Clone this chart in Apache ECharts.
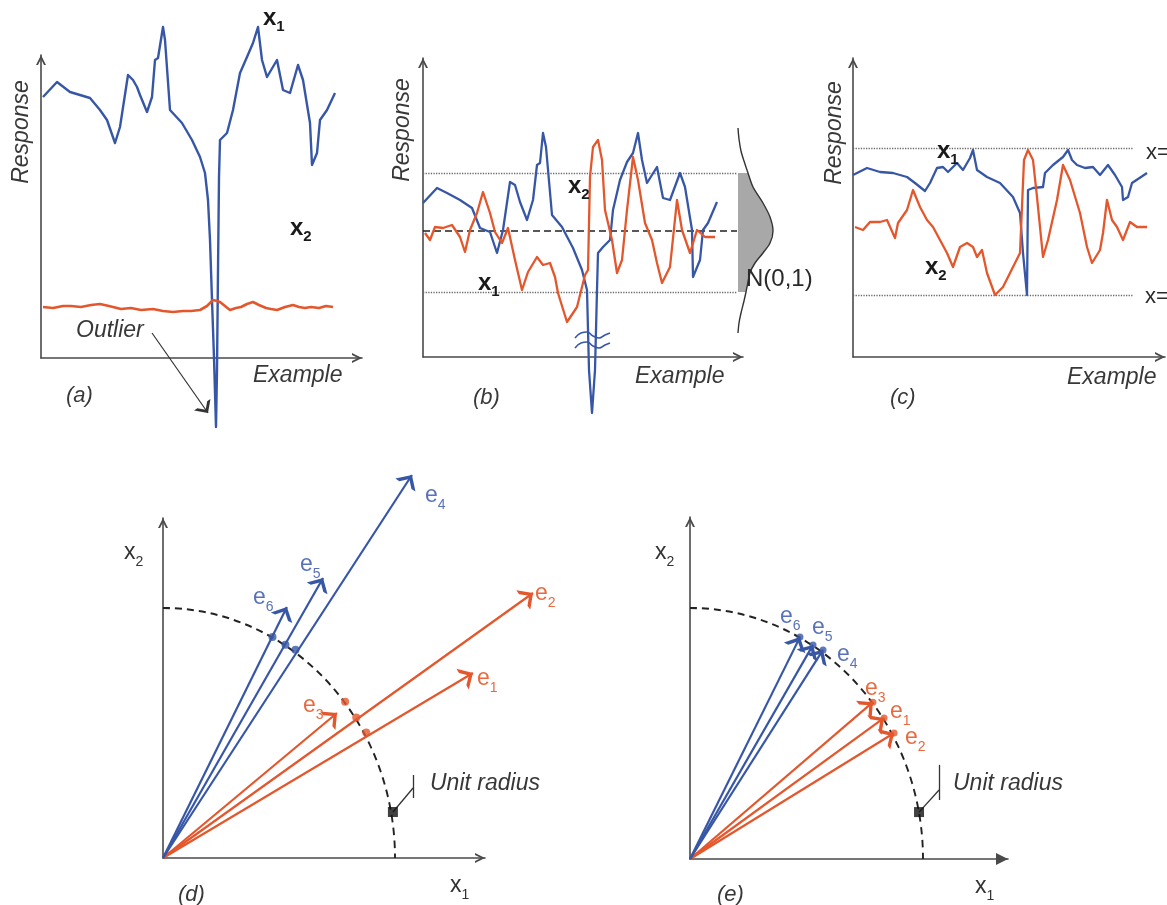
<!DOCTYPE html>
<html><head><meta charset="utf-8">
<script src="https://cdn.jsdelivr.net/npm/echarts/dist/echarts.min.js"></script>
<style>html,body{margin:0;padding:0;background:#fff}#c{width:1167px;height:905px}</style>
</head><body><div id="c"></div>
<script>
// ---------------- DATA (panel units; x = example index, y = response) ----------------
// (a) raw responses
const aX1 = [[2,261],[16,276],[29,266],[39,263],[49,260],[59,248],[66,238],[74,215],[79,231],[87,283],[92,278],[96,271],[99,263],[106,246],[111,261],[114,298],[117,300],[122,331],[124,318],[129,248],[141,235],[151,218],[159,201],[164,185],[167,158],[169,118],[171,58],[173,0],[175,-69],[176,-12],[177,88],[178,181],[179,218],[186,225],[192,248],[199,285],[206,301],[212,315],[217,331],[221,298],[226,281],[236,298],[242,268],[249,265],[257,293],[262,278],[269,235],[271,193],[276,205],[279,238],[286,248],[294,265]];
const aX2 = [[2,51],[12,50],[22,52],[30,52],[40,51],[50,53],[59,54],[68,52],[80,49],[90,50],[100,48],[112,49],[122,47],[132,46],[142,47],[150,47],[159,48],[166,52],[172,58],[176,57],[179,56],[184,52],[189,48],[195,50],[200,51],[206,54],[212,56],[218,53],[225,50],[230,49],[236,48],[244,51],[252,53],[258,51],[264,50],[270,51],[278,50],[285,52],[292,51]];
const aOutlierArrow = [[111,25],[167,-55]];
// (b) standardised responses
const bX1 = [[0,154],[14,169],[24,164],[37,157],[49,149],[57,129],[67,125],[74,104],[80,127],[87,175],[92,172],[97,155],[104,137],[110,157],[114,192],[117,194],[120,224],[123,210],[129,142],[139,130],[150,109],[159,87],[164,67],[165,27],[166,-13],[169,-56],[172,-13],[173,27],[174,67],[175,104],[180,110],[187,117],[190,147],[197,177],[204,195],[210,204],[215,224],[219,197],[224,174],[234,190],[240,159],[247,157],[257,184],[262,170],[269,127],[270,80],[277,97],[280,127],[285,134],[294,155]];
const bX2 = [[2,124],[7,117],[12,130],[20,129],[29,132],[37,120],[42,105],[47,127],[54,144],[60,165],[67,144],[72,125],[79,114],[85,129],[92,97],[99,67],[105,85],[114,100],[120,92],[127,94],[132,80],[135,64],[144,35],[154,50],[162,82],[165,87],[167,180],[170,210],[175,217],[179,197],[182,147],[189,117],[194,84],[199,97],[204,147],[210,200],[215,177],[222,134],[229,117],[234,94],[239,74],[247,90],[254,157],[259,127],[267,104],[274,127],[282,120],[292,120]];
const bLevels = [184, 126, 65];          // +1 sd, mean, -1 sd
const bLevelEnd = 314;
const bBell = [[315,229],[316,218],[318,206],[321,196],[324,187],[325,184],[330,170],[340,154],[347,140],[350,126],[347,114],[340,104],[332,94],[327,84],[324,70],[323,65],[321,56],[318,44],[316,34],[315,24]];
const bBreakMarks = [[[152,19],[158,24],[164,25],[170,21],[176,19],[182,22],[187,24]],[[152,9],[158,14],[164,15],[170,11],[176,9],[182,12],[187,14]]];
// (c) min-max scaled responses
const cX1 = [[0,182],[14,189],[27,185],[40,184],[54,180],[62,174],[72,166],[77,174],[84,189],[90,190],[95,185],[104,194],[110,187],[117,199],[120,207],[124,187],[134,180],[147,174],[160,160],[167,144],[170,104],[174,62],[175,167],[180,169],[190,170],[192,184],[200,192],[210,200],[215,207],[219,197],[224,192],[232,189],[240,190],[247,182],[255,192],[262,182],[269,170],[270,157],[275,160],[279,174],[294,184]];
const cX2 = [[2,130],[10,127],[17,135],[27,135],[34,137],[42,119],[45,134],[54,147],[60,167],[67,150],[74,137],[80,130],[87,117],[94,104],[100,90],[107,110],[114,114],[120,110],[124,100],[129,107],[134,84],[142,62],[150,70],[160,90],[167,104],[171,197],[175,207],[180,197],[184,160],[190,100],[195,117],[204,157],[210,192],[217,177],[227,144],[234,110],[239,94],[247,107],[250,124],[254,157],[259,137],[264,130],[270,117],[277,135],[284,130],[294,130]];
const cLevels = [209, 62];               // x = 1, x = 0
const cLevelEnd = 280;
// (d) raw example vectors e1..e6 and (e) unit-length vectors e1..e6
const vecNames = ['e1','e2','e3','e4','e5','e6'];
const dVectors = [[1.336,0.74],[1.595,1.06],[0.75,0.58],[1.073,1.532],[0.69,1.12],[0.534,1.004]];
const eVectors = [[0.833,0.562],[0.876,0.502],[0.785,0.625],[0.571,0.833],[0.528,0.853],[0.472,0.884]];
const unitRadius = 1;
const dUnitMarker = [0.991, 0.184];
const eUnitMarker = [0.983, 0.187];

// ---------------- STYLE ----------------
const BLUE = '#3757a6', ORANGE = '#e4572c', AX = '#4a4a4a';
const BLUE_T = '#5a72b8', ORANGE_T = '#e86a40';
const FONT = '"Liberation Sans", Arial, Helvetica, sans-serif';
const CHEV = 'path://M5,0 M0,20 L5,10 L10,20 L8,20 L5,14 L2,20 Z';
const TRI = 'path://M5,0 M0,20 L5,10 L10,20 Z';
const vecColor = i => i < 3 ? ORANGE : BLUE;

function valAxis(gi, max, sym, size) {
  return {type:'value', gridIndex:gi, min:0, max:max,
    axisLine:{show:true, onZero:false, symbol:['none', sym], symbolSize:size, lineStyle:{color:AX, width:1.6}},
    axisTick:{show:false}, axisLabel:{show:false}, splitLine:{show:false}};
}
function lineS(gi, data, color, width, z) {
  return {type:'line', xAxisIndex:gi, yAxisIndex:gi, data:data, symbol:'none', showSymbol:false, clip:false,
    lineStyle:{color:color, width:width||2.4, join:'round'}, z:z||3, silent:true};
}
function segs(gi, list, style, sym, symSize, z) {
  return {type:'lines', coordinateSystem:'cartesian2d', xAxisIndex:gi, yAxisIndex:gi, clip:false, silent:true,
    data:list, lineStyle:Object.assign({opacity:1, curveness:0}, style), symbol:sym||['none','none'], symbolSize:symSize||10, z:z||2};
}
function arcS(gi) {
  return {type:'custom', xAxisIndex:gi, yAxisIndex:gi, clip:false, silent:true, data:[[0,0]], z:1,
    renderItem:(p, api) => {
      const o = api.coord([0,0]);
      const rx = api.size([unitRadius,0])[0], ry = api.size([0,unitRadius])[1];
      return {type:'arc', x:o[0], y:o[1], scaleY:ry/rx,
        shape:{cx:0, cy:0, r:rx, startAngle:-Math.PI/2, endAngle:0, clockwise:true},
        style:{stroke:'#222', fill:null, lineWidth:1.9, lineDash:[7,5]}};
    }};
}
function txt(x, y, text, o) {
  o = o || {};
  return {type:'text', x:x, y:y, rotation:o.rot||0, silent:true, z:100,
    style:{text:text, fill:o.color||'#383838',
      font:(o.it?'italic ':'') + (o.bold?'bold ':'') + (o.size||23) + 'px ' + FONT,
      textAlign:o.align||'left', textVerticalAlign:'middle'}};
}
function sub(x, y, base, s, o) {
  o = o || {};
  const w = o.bold ? 'bold' : 'normal', col = o.color || '#222', lh = 32;
  return {type:'text', x:x, y:y, silent:true, z:100,
    style:{text:'{m|' + base + '}{s|' + s + '}', textAlign:'left', textVerticalAlign:'middle',
      rich:{m:{fontSize:o.size||23, fontWeight:w, fontFamily:FONT, fill:col, lineHeight:lh, verticalAlign:'middle'},
            s:{fontSize:o.sub||14, fontWeight:w, fontFamily:FONT, fill:col, lineHeight:lh, verticalAlign:'bottom'}}}};
}

const chart = echarts.init(document.getElementById('c'), null, {renderer:'canvas'});
const gridBase = {containLabel:false, outerBoundsMode:'none', show:false};
const grids = [
  {left:41, top:55, width:321, height:303},
  {left:423, top:58, width:320, height:299},
  {left:853, top:58, width:312, height:299},
  {left:163, top:518, width:322, height:340},
  {left:690, top:517, width:318, height:342}
].map(g => Object.assign({}, gridBase, g));

const dotted = {color:'#6a6a6a', width:1.3, type:'dotted'};
const series = [
  // (a)
  lineS(0, aX1, BLUE, 2.4, 3),
  lineS(0, aX2, ORANGE, 2.6, 4),
  segs(0, [{coords:aOutlierArrow}], {color:'#333', width:1.2}, ['none', CHEV], [9,20], 5),
  // (b)
  segs(1, [{coords:[[0,bLevels[0]],[bLevelEnd,bLevels[0]]]},{coords:[[0,bLevels[2]],[bLevelEnd,bLevels[2]]]}], dotted),
  segs(1, [{coords:[[0,bLevels[1]],[bLevelEnd,bLevels[1]]]}], {color:'#222', width:1.5, type:[7,4]}),
  {type:'custom', xAxisIndex:1, yAxisIndex:1, clip:false, silent:true, data:[[0,0]], z:1,
    renderItem:(p, api) => {
      const poly = [[bBell[0][0], bLevels[0]]].concat(bBell.filter(q => q[1] <= bLevels[0] && q[1] >= bLevels[2]), [[bBell[0][0], bLevels[2]]]);
      return {type:'group', children:[
        {type:'polygon', shape:{points:poly.map(q => api.coord(q))}, style:{fill:'#a8a8a8', stroke:null}},
        {type:'polyline', shape:{points:bBell.map(q => api.coord(q)), smooth:0.3}, style:{stroke:'#333', lineWidth:1.4, fill:null}}
      ]};
    }},
  lineS(1, bX1, BLUE, 2.3, 3),
  lineS(1, bX2, ORANGE, 2.3, 4),
  Object.assign(lineS(1, bBreakMarks[0], BLUE, 1.6, 5), {smooth:true}),
  Object.assign(lineS(1, bBreakMarks[1], BLUE, 1.6, 5), {smooth:true}),
  // (c)
  segs(2, cLevels.map(v => ({coords:[[0,v],[cLevelEnd,v]]})), dotted),
  lineS(2, cX1, BLUE, 2.3, 3),
  lineS(2, cX2, ORANGE, 2.3, 4),
  // (d)
  arcS(3),
  segs(3, dVectors.map((v,i) => ({coords:[[0,0],v], lineStyle:{color:vecColor(i), opacity:1}})), {width:2.2}, ['none', CHEV], [12,24], 3),
  {type:'scatter', xAxisIndex:3, yAxisIndex:3, clip:false, silent:true, symbolSize:8, z:4,
    data:eVectors.map((v,i) => ({value:v, itemStyle:{color:vecColor(i)}}))},
  {type:'scatter', xAxisIndex:3, yAxisIndex:3, clip:false, silent:true, symbol:'rect', symbolSize:10, z:4,
    data:[dUnitMarker], itemStyle:{color:'#111'}},
  segs(3, [{coords:[dUnitMarker,[1.078,0.28]]},{coords:[[1.078,0.332],[1.078,0.24]]}], {color:'#333', width:1.3}),
  // (e)
  arcS(4),
  segs(4, eVectors.map((v,i) => ({coords:[[0,0],v], lineStyle:{color:vecColor(i), opacity:1}})), {width:2.2}, ['none', CHEV], [12,24], 3),
  {type:'scatter', xAxisIndex:4, yAxisIndex:4, clip:false, silent:true, symbolSize:7, z:4,
    data:eVectors.map((v,i) => ({value:v, itemStyle:{color:vecColor(i)}}))},
  {type:'scatter', xAxisIndex:4, yAxisIndex:4, clip:false, silent:true, symbol:'rect', symbolSize:10, z:4,
    data:[eUnitMarker], itemStyle:{color:'#111'}},
  segs(4, [{coords:[eUnitMarker,[1.069,0.275]]},{coords:[[1.069,0.375],[1.069,0.235]]}], {color:'#333', width:1.3})
];

const dLabelPos = [[477,679],[535,594],[303,706],[425,496],[300,565],[253,598]];
const eLabelPos = [[890,712],[905,738],[865,689],[837,655],[812,628],[780,617]];
const graphics = [
  // (a)
  txt(22,132,'Response',{it:true, rot:Math.PI/2, align:'center'}),
  txt(253,376,'Example',{it:true}),
  txt(66,396,'(a)',{it:true, size:22}),
  txt(76,331,'Outlier',{it:true}),
  sub(263,18,'x','1',{bold:true, size:24, sub:15, color:'#1a1a1a'}),
  sub(290,228,'x','2',{bold:true, size:24, sub:15, color:'#1a1a1a'}),
  // (b)
  txt(403,130,'Response',{it:true, rot:Math.PI/2, align:'center'}),
  txt(635,377,'Example',{it:true}),
  txt(473,398,'(b)',{it:true, size:22}),
  sub(568,186,'x','2',{bold:true, size:24, sub:15, color:'#1a1a1a'}),
  sub(478,283,'x','1',{bold:true, size:24, sub:15, color:'#1a1a1a'}),
  txt(746,279,'N(0,1)',{size:24, color:'#2a2a2a'}),
  // (c)
  txt(835,133,'Response',{it:true, rot:Math.PI/2, align:'center'}),
  txt(1067,378,'Example',{it:true}),
  txt(890,398,'(c)',{it:true, size:22}),
  sub(937,151,'x','1',{bold:true, size:24, sub:15, color:'#1a1a1a'}),
  sub(925,267,'x','2',{bold:true, size:24, sub:15, color:'#1a1a1a'}),
  txt(1146,153,'x=1',{size:22, color:'#2a2a2a'}),
  txt(1145,297,'x=0',{size:22, color:'#2a2a2a'}),
  // (d)
  sub(124,553,'x','2',{color:'#333'}),
  sub(450,886,'x','1',{color:'#333'}),
  txt(178,895,'(d)',{it:true, size:22}),
  txt(430,784,'Unit radius',{it:true}),
  // (e)
  sub(655,553,'x','2',{color:'#333'}),
  sub(975,887,'x','1',{color:'#333'}),
  txt(717,895,'(e)',{it:true, size:22}),
  txt(953,784,'Unit radius',{it:true})
];
vecNames.forEach((n,i) => {
  const c = i < 3 ? ORANGE_T : BLUE_T;
  graphics.push(sub(dLabelPos[i][0], dLabelPos[i][1], n[0], n[1], {color:c}));
  graphics.push(sub(eLabelPos[i][0], eLabelPos[i][1], n[0], n[1], {color:c}));
});

chart.setOption({
  animation:false,
  backgroundColor:'#fff',
  grid:grids,
  xAxis:[valAxis(0,321,CHEV,[12,20]), valAxis(1,320,CHEV,[12,20]), valAxis(2,312,CHEV,[12,20]),
         valAxis(3,322/232,CHEV,[12,20]), valAxis(4,318/233,TRI,[12,30])],
  yAxis:[valAxis(0,303,CHEV,[12,20]), valAxis(1,299,CHEV,[12,20]), valAxis(2,299,CHEV,[12,20]),
         valAxis(3,340/250,CHEV,[12,20]), valAxis(4,342/251,CHEV,[12,20])],
  series:series,
  graphic:graphics
});
</script>
</body></html>
